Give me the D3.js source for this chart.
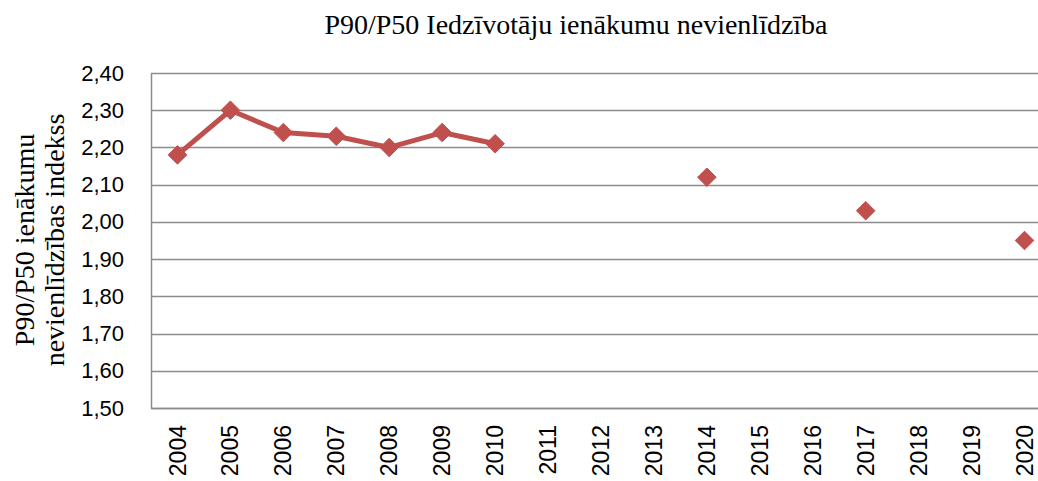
<!DOCTYPE html>
<html>
<head>
<meta charset="utf-8">
<script src="https://cdn.jsdelivr.net/npm/d3@7"></script>
<style>
	body { margin: 0; background: #fff; overflow: hidden; }
</style>
</head>
<body>
<svg id="chart" width="1038" height="481"></svg>
<script>
var years = ['2004', '2005', '2006', '2007', '2008', '2009', '2010', '2011', '2012', '2013', '2014', '2015', '2016', '2017', '2018', '2019', '2020'];
var values = [2.18, 2.30, 2.24, 2.23, 2.20, 2.24, 2.21, null, null, null, 2.12, null, null, 2.03, null, null, 1.95];
var yTicks = [1.5, 1.6, 1.7, 1.8, 1.9, 2.0, 2.1, 2.2, 2.3, 2.4];

// plot area runs a little past the right edge of the picture (cropped in the original)
var svg = d3.select('#chart'),
	margin = { top: 73, right: -13, bottom: 73, left: 151 },
	width = 1038 - margin.left - margin.right,
	height = 481 - margin.top - margin.bottom,
	g = svg.append('g').attr('transform', 'translate(' + margin.left + ',' + margin.top + ')');

var color = '#c0504d';
var fmt = function(d) { return d3.format('.2f')(d).replace('.', ','); };

var scaleX = d3.scaleBand().domain(years).range([0, width]);
var scaleY = d3.scaleLinear().domain([1.5, 2.4]).range([height, 0]);

// grid lines
g.append('g')
	.selectAll('line')
	.data(yTicks)
	.enter().append('line')
	.attr('x1', 0).attr('x2', width)
	.attr('y1', function(d) { return Math.round(scaleY(d)) + 0.5; })
	.attr('y2', function(d) { return Math.round(scaleY(d)) + 0.5; })
	.attr('stroke', '#8c8c8c').attr('stroke-width', 1.5);

// y axis
var yAxis = d3.axisLeft(scaleY).tickValues(yTicks).tickFormat(fmt).tickSize(0).tickPadding(27);
var svg_yAxis = g.append('g').call(yAxis);
svg_yAxis.select('.domain').attr('stroke', '#8c8c8c').attr('stroke-width', 1.5);
svg_yAxis.selectAll('text').attr('font-family', '"Liberation Sans", Arial, sans-serif').attr('font-size', '22px').attr('fill', '#000');

// x axis
var xAxis = d3.axisBottom(scaleX).tickSize(0);
var svg_xAxis = g.append('g').attr('transform', 'translate(0,' + height + ')').call(xAxis);
svg_xAxis.select('.domain').attr('stroke', '#8c8c8c').attr('stroke-width', 1.5);
svg_xAxis.selectAll('text')
	.attr('font-family', '"Liberation Sans", Arial, sans-serif').attr('font-size', '23px').attr('fill', '#000')
	.attr('transform', 'rotate(-90)')
	.attr('text-anchor', 'end')
	.attr('x', -17).attr('y', 0).attr('dy', '0.35em');

// line (only connected points)
var line = d3.line()
	.defined(function(d) { return d.v !== null; })
	.x(function(d) { return scaleX(d.year) + scaleX.bandwidth() / 2; })
	.y(function(d) { return scaleY(d.v); });

var points = years.map(function(y, i) { return { year: y, v: values[i] }; });

g.append('path')
	.datum(points)
	.attr('fill', 'none')
	.attr('stroke', color)
	.attr('stroke-width', 5)
	.attr('stroke-linejoin', 'round')
	.attr('d', line);

var diamond = d3.symbol().type(d3.symbolDiamond2).size(220);
g.append('g')
	.selectAll('path')
	.data(points.filter(function(d) { return d.v !== null; }))
	.enter().append('path')
	.attr('d', diamond)
	.attr('transform', function(d) { return 'translate(' + (scaleX(d.year) + scaleX.bandwidth() / 2) + ',' + scaleY(d.v) + ')'; })
	.attr('fill', color)
	.attr('stroke', color)
	.attr('stroke-width', 1);

// title
svg.append('text')
	.attr('x', 576).attr('y', 34)
	.attr('text-anchor', 'middle')
	.attr('font-family', '"Liberation Serif", "Times New Roman", serif')
	.attr('font-size', '28px')
	.text('P90/P50 Iedzīvotāju ienākumu nevienlīdzība');

// y axis label, two lines
var yLabel = ['P90/P50 ienākumu', 'nevienlīdzības indekss'];
svg.append('g')
	.selectAll('text')
	.data(yLabel)
	.enter().append('text')
	.attr('transform', function(d, i) { return 'translate(' + (34 + i * 30) + ',240) rotate(-90)'; })
	.attr('text-anchor', 'middle')
	.attr('font-family', '"Liberation Serif", "Times New Roman", serif')
	.attr('font-size', '28px')
	.text(function(d) { return d; });
</script>
</body>
</html>
